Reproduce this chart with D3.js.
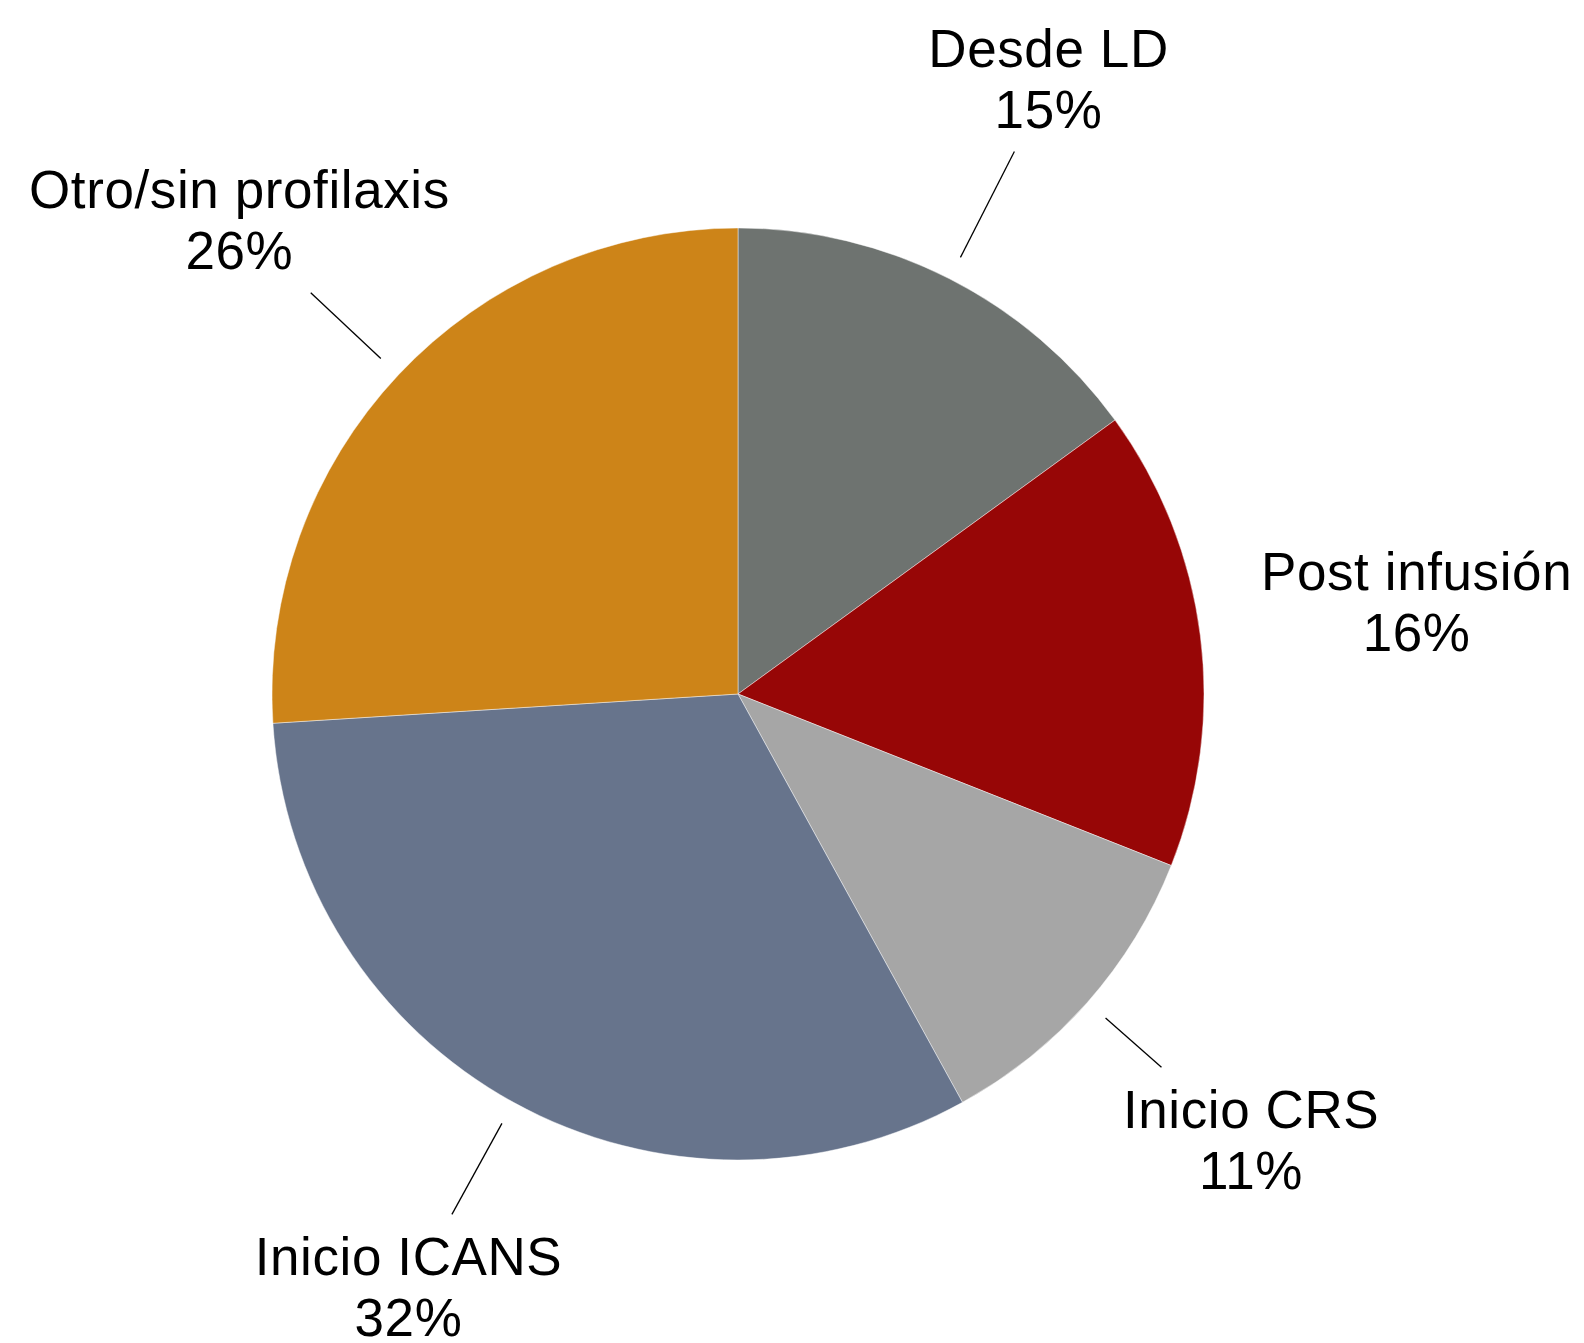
<!DOCTYPE html>
<html>
<head>
<meta charset="utf-8">
<script src="https://cdn.jsdelivr.net/npm/d3@7"></script>
<style>
  html, body { margin: 0; padding: 0; background: #ffffff; }
  svg { display: block; }
  text { font-family: "Liberation Sans", Arial, Helvetica, sans-serif; fill: #000; }
</style>
</head>
<body>
<svg id="chart" width="1584" height="1343"></svg>
<script>
// Momento de inicio de la profilaxis (porcentaje de pacientes)
const categories = ["Desde LD", "Post infusión", "Inicio CRS", "Inicio ICANS", "Otro/sin profilaxis"];
const values = [15, 16, 11, 32, 26];
const colors = ["#6e7370", "#970606", "#a6a6a6", "#67748c", "#cd8418"];

const width = 1584, height = 1343;
const cx = 738, cy = 694, radius = 466;
const labelRadius = 684;        // distance of label block centre from pie centre
const leaderStart = radius + 24; // leader lines begin just outside the rim
const labelPad = 13;            // gap between leader end and label box
const fontSize = 53, lineGap = 61;

const svg = d3.select("#chart");
const g = svg.append("g").attr("transform", `translate(${cx},${cy})`);

const pie = d3.pie().sort(null).value(d => d)
  .startAngle(0).endAngle(2 * Math.PI);
const arcs = pie(values);
const arc = d3.arc().innerRadius(0).outerRadius(radius);

g.selectAll("path.slice")
  .data(arcs)
  .join("path")
  .attr("class", "slice")
  .attr("d", arc)
  .attr("fill", (d, i) => colors[i])
  .attr("stroke", "rgba(255,255,255,0.45)")
  .attr("stroke-width", 1);

// Labels: category on the first line, percentage below
arcs.forEach((d, i) => {
  const a = (d.startAngle + d.endAngle) / 2;
  const ux = Math.sin(a), uy = -Math.cos(a);
  const lx = labelRadius * ux, ly = labelRadius * uy;

  const lab = g.append("g").attr("transform", `translate(${lx},${ly})`);
  const t = lab.append("text")
    .attr("text-anchor", "middle")
    .style("font-size", fontSize + "px")
    .style("letter-spacing", "0.6px");
  t.append("tspan").attr("x", 0).attr("y", -18).text(categories[i]);
  t.append("tspan").attr("x", 0).attr("y", -18 + lineGap).text(values[i] + "%");

  // Leader line along the slice bisector, stopping short of the label box
  const bb = t.node().getBBox();
  const xmin = lx + bb.x - labelPad, xmax = lx + bb.x + bb.width + labelPad;
  const ymin = ly + bb.y - labelPad, ymax = ly + bb.y + bb.height + labelPad;
  const tx = Math.abs(ux) < 1e-9 ? -Infinity : (ux > 0 ? xmin / ux : xmax / ux);
  const ty = Math.abs(uy) < 1e-9 ? -Infinity : (uy > 0 ? ymin / uy : ymax / uy);
  const tEnter = Math.max(tx, ty);
  if (tEnter - leaderStart > 40) {
    g.append("line")
      .attr("x1", leaderStart * ux).attr("y1", leaderStart * uy)
      .attr("x2", tEnter * ux).attr("y2", tEnter * uy)
      .attr("stroke", "#000")
      .attr("stroke-width", 1.3);
  }
});
</script>
</body>
</html>
